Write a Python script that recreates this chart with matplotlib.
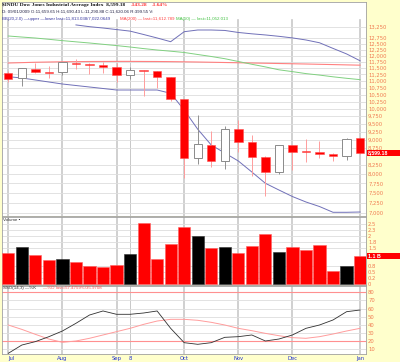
import numpy as np
import matplotlib
matplotlib.use("Agg")
import matplotlib.pyplot as plt
from matplotlib.patches import Rectangle
from matplotlib.ticker import NullLocator, NullFormatter

# weekly candles, Jul 2008 - Jan 2009
opens = [11295, 11103, 11462, 11357, 11335, 11712, 11672, 11633, 11539, 11217, 11423, 11383, 11141, 10333,
         8459, 8835, 8373, 9323, 8927, 8488, 8047, 8826, 8650, 8629, 8579, 8515, 9040]
closes = [11076, 11490, 11357, 11318, 11728, 11649, 11620, 11539, 11217, 11411, 11375, 11141, 10333, 8459,
          8857, 8373, 9323, 8936, 8488, 8047, 8826, 8635, 8629, 8579, 8515, 9034, 8599]
highs = [11396, 11510, 11688, 11580, 11760, 11861, 11700, 11728, 11712, 11553, 11430, 11400, 11150, 10340,
         9780, 9270, 9440, 9625, 9143, 8500, 8850, 8830, 9029, 8957, 8600, 9065, 9088]
lows = [10975, 10825, 11295, 11103, 11229, 11450, 11268, 11295, 10975, 11076, 10450, 10730, 10280, 7883,
        8270, 8186, 8138, 8635, 7954, 7427, 7990, 8111, 8336, 8442, 8373, 8400, 8580]
prev_close = 11288

bb_upper = [np.nan, np.nan, np.nan, np.nan, np.nan, 13330, 13250, 13190, 13120, 13050, 12900, 12747, 12586,
            13024, 13100, 13100, 13080, 12990, 12930, 12880, 12820, 12750, 12660, 12540, 12300, 12070, 11790]
bb_lower = [11164, 11115, 11039, 10963, 10888, 10832, 10777, 10722, 10667, 10667, 10667, 10667, 10547, 9960,
            9327, 8835, 8597, 8365, 8055, 7750, 7574, 7406, 7269, 7157, 7017, 7017, 7024]
ma200 = [11700, 11715, 11730, 11740, 11750, 11755, 11760, 11762, 11765, 11765, 11762, 11760, 11755, 11748,
         11740, 11730, 11720, 11710, 11700, 11690, 11680, 11670, 11660, 11648, 11637, 11625, 11613]
ma50 = [12834, 12788, 12745, 12689, 12632, 12580, 12530, 12474, 12419, 12359, 12292, 12233, 12183, 12129,
        12046, 11964, 11874, 11761, 11649, 11545, 11431, 11360, 11283, 11226, 11160, 11103, 11052]

volume = [1.28, 1.55, 1.19, 1.01, 1.04, 0.92, 0.75, 0.71, 0.78, 1.24, 2.53, 1.05, 1.67, 2.36,
          1.99, 1.50, 1.55, 1.31, 1.58, 2.10, 1.32, 1.55, 1.43, 1.62, 0.55, 0.76, 1.15]

stoch_k = [4.8, 15.0, 19.2, 25.3, 32.3, 41.8, 52.0, 57.0, 52.9, 52.9, 54.5, 57.0, 35.6, 17.9,
           15.9, 17.9, 24.5, 25.3, 27.4, 20.0, 22.4, 27.4, 35.6, 39.7, 45.9, 56.1, 58.2]
stoch_d = [39.7, 34.3, 28.2, 22.4, 18.3, 20.0, 23.3, 27.4, 31.5, 35.6, 40.5, 44.6, 46.7, 46.7,
           45.5, 43.0, 39.7, 35.6, 32.7, 29.4, 26.5, 24.1, 23.3, 25.3, 28.6, 32.3, 35.6]

month_pos = [0, 4, 8, 9, 13, 17, 21, 26]
month_lab = ["Jul", "Aug", "Sep", "8", "Oct", "Nov", "Dec", "Jan"]

price_ticks = [7000, 7250, 7500, 7750, 8000, 8250, 8750, 9000, 9250, 9500, 9750, 10000, 10250,
               10500, 10750, 11000, 11250, 11500, 11750, 12000, 12250, 12500, 12750, 13250]
vol_ticks = [0, 0.25, 0.5, 0.75, 1.5, 1.75, 2, 2.25, 2.5]
vol_labels = ["0", "0.2", "0.5", "0.8", "1.5", "1.8", "2", "2.3", "2.5"]
stoch_ticks = [10, 20, 30, 40, 50, 60, 70, 80]

W, H = 400, 362
fig = plt.figure(figsize=(W / 100, H / 100), dpi=100, facecolor='#FFFFCC')

def box(top, bottom, left=2, right=366):
    return [left / W, 1 - bottom / H, (right - left) / W, (bottom - top) / H]

ax = fig.add_axes(box(2, 216))
axv = fig.add_axes(box(217, 285))
axs = fig.add_axes(box(286, 354))

x = np.arange(len(closes))
xlim = ((2 - 8.3) / 13.53, (366 - 8.3) / 13.53)
lab_col = '#F07A50'
grid_col = '#DDDDDD'
vgrid_col = '#C8C8C8'

for a in (ax, axv, axs):
    a.set_xlim(*xlim)
    a.set_facecolor('white')
    for s in a.spines.values():
        s.set_color('#A0A0A0')
        s.set_linewidth(0.6)
    a.yaxis.tick_right()
    a.tick_params(axis='y', length=0, pad=1.5, labelsize=3.8, labelcolor=lab_col)
    a.tick_params(axis='x', length=0)

# price panel
ax.set_yscale('log')
ax.set_ylim(7000 * np.exp((213 - 216) / 292), 7000 * np.exp((213 - 2) / 292))
ax.yaxis.set_minor_locator(NullLocator())
ax.yaxis.set_minor_formatter(NullFormatter())
ax.set_yticks(price_ticks)
ax.set_yticklabels([f"{v:,}" for v in price_ticks])
ax.grid(axis='y', color=grid_col, lw=0.6)
ax.set_xticks([])
for p in month_pos:
    ax.axvline(p, ymin=0, ymax=(216 - 20) / 214, color=vgrid_col, lw=1.2 if p != 9 else 0.7, zorder=1)

ax.plot(x, bb_upper, color='#7070B8', lw=0.7, zorder=2)
ax.plot(x, bb_lower, color='#7070B8', lw=0.7, zorder=2)
ax.plot(x, ma200, color='#FF8080', lw=0.8, zorder=2)
ax.plot(x, ma50, color='#80D080', lw=0.7, zorder=2)

prevs = [prev_close] + closes[:-1]
for i in range(len(closes)):
    o, h, l, c = opens[i], highs[i], lows[i], closes[i]
    up = c > prevs[i]
    if up:
        ax.vlines(i, l, h, color='#909090', lw=0.7, zorder=3)
        ax.bar(i, c - o, bottom=o, width=0.62, facecolor='white', edgecolor='#8A8A8A', lw=0.7, zorder=4)
    else:
        ax.vlines(i, l, h, color='#FF9C9C', lw=0.7, zorder=3)
        ax.bar(i, abs(c - o), bottom=min(o, c), width=0.62, facecolor='#FF0000', edgecolor='#FF5050',
               lw=0.4, zorder=4)

# header text
def ftxt(px, py, s, **kw):
    fig.text(px / W, 1 - py / H, s, va='center', ha='left', **kw)

ftxt(2, 5, "$INDU Dow Jones Industrial Average Index  8,599.18", fontsize=3.9,
     family='Liberation Serif', weight='bold', color='#111111')
ftxt(131, 5, "-143.28", fontsize=3.9, family='Liberation Serif', weight='bold', color='#FF3030')
ftxt(152, 5, "-1.64%", fontsize=3.9, family='Liberation Serif', weight='bold', color='#FF3030')
ftxt(2, 12, "D: 09/01/2009 O:11,659.65 H:11,690.43 L:11,290.88 C:11,620.06 R:399.55 V:",
     fontsize=3.2, family='Liberation Sans', color='#222244')
ftxt(2, 19, "BB(20,2.0) \u2014upper \u2014lower last=11,813.038/7,022.0649", fontsize=3.2,
     family='Liberation Sans', color='#3838A0')
ftxt(120, 19, "MA(200) \u2014 last=11,612.789", fontsize=3.2, family='Liberation Sans', color='#FF4040')
ftxt(176, 19, "MA(50) \u2014 last=11,052.013", fontsize=3.2, family='Liberation Sans', color='#40C040')

# volume panel
vcolors = ['black' if closes[i] > prevs[i] else '#FF0000' for i in range(len(closes))]
axv.bar(x, volume, width=0.9, color=vcolors, edgecolor=['#303030' if c == 'black' else '#FF6060' for c in vcolors],
        lw=0.4, zorder=3)
axv.set_ylim((284 - 285) / 24, (284 - 217) / 24)
axv.set_yticks(vol_ticks)
axv.set_yticklabels(vol_labels)
axv.grid(axis='y', color=grid_col, lw=0.6)
axv.set_xticks([])
for p in month_pos:
    axv.axvline(p, color=vgrid_col, lw=1.2 if p != 9 else 0.7, zorder=1)
ftxt(3, 220, "Volume \u25aa", fontsize=3.2, family='Liberation Sans', color='#333333')

# stochastics panel
axs.set_ylim((357.2 - 354) / 0.811, (357.2 - 286) / 0.811)
axs.set_yticks(stoch_ticks)
axs.grid(axis='y', color=grid_col, lw=0.6)
for p in month_pos:
    axs.axvline(p, color=vgrid_col, lw=1.2 if p != 9 else 0.7, zorder=1)
axs.axhline(80, color='#FF9090', lw=0.8, zorder=2)
axs.axhline(20, color='#FF9090', lw=0.8, zorder=2)
axs.plot(x, stoch_d, color='#FF9C9C', lw=0.7, zorder=3)
axs.plot(x, stoch_k, color='#303030', lw=0.6, zorder=4)
axs.set_xticks(month_pos)
axs.set_xticklabels(month_lab)
axs.tick_params(axis='x', labelsize=3.8, labelcolor='#2030D0', pad=1.2)
axs.get_xticklabels()[0].set_horizontalalignment('left')
ftxt(3, 288, "SSO(14,3) \u2014%K", fontsize=3.2, family='Liberation Sans', color='#333333')
ftxt(43, 288, "\u2014%D last=57.4759%/35.9708", fontsize=3.2, family='Liberation Sans', color='#FF5050')

# value boxes on the right
fig.patches.append(Rectangle((367 / W, 1 - 156 / H), 33 / W, 6 / H, transform=fig.transFigure,
                             facecolor='#FF0000', edgecolor='none'))
ftxt(368, 153, "8,599.18", fontsize=3.8, family='Liberation Sans', weight='bold', color='white')
fig.patches.append(Rectangle((367 / W, 1 - 259 / H), 33 / W, 6 / H, transform=fig.transFigure,
                             facecolor='#FF0000', edgecolor='none'))
ftxt(368, 256, "1.1 B", fontsize=3.8, family='Liberation Sans', weight='bold', color='white')

fig.savefig("out.png", dpi=100, facecolor=fig.get_facecolor())
